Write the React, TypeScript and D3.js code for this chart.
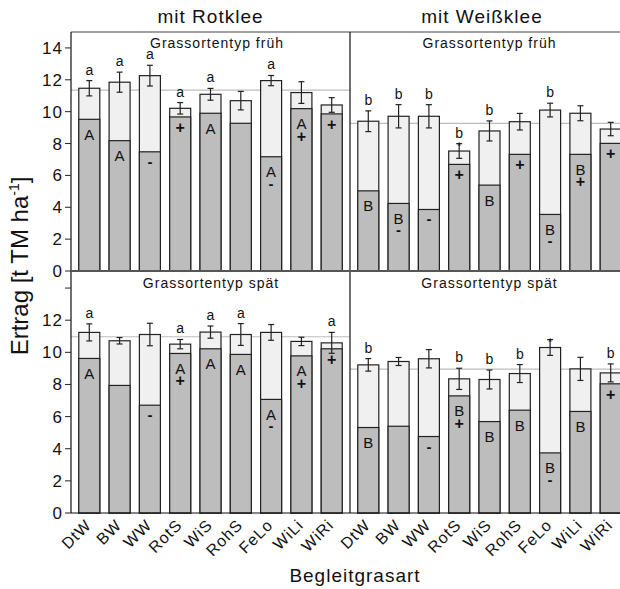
import React from "react";
import * as d3 from "d3";

const categories = ["DtW", "BW", "WW", "RotS", "WiS", "RohS", "FeLo", "WiLi", "WiRi"];

// mit Rotklee, Grassortentyp früh
const rfTotal = [11.47, 11.85, 12.26, 10.21, 11.09, 10.69, 11.95, 11.2, 10.42];
const rfDark = [9.52, 8.18, 7.48, 9.67, 9.9, 9.27, 7.17, 10.19, 9.86];
const rfErr = [0.48, 0.63, 0.65, 0.36, 0.37, 0.58, 0.32, 0.68, 0.46];
const rfGroup = ["a", "a", "a", "a", "a", "", "a", "", ""];
const rfInner = ["A", "A", "", "", "A", "", "A", "A", ""];
const rfSign = ["", "", "-", "+", "", "", "-", "+", "+"];
const rfStar = [0, 0, 0, 0, 0, 0, 0, 0, 0];
const rfMean = 11.35;

// mit Weißklee, Grassortentyp früh
const wfTotal = [9.4, 9.71, 9.71, 7.53, 8.79, 9.37, 10.1, 9.9, 8.91];
const wfDark = [5.03, 4.24, 3.86, 6.69, 5.39, 7.32, 3.55, 7.32, 8.01];
const wfErr = [0.65, 0.73, 0.73, 0.46, 0.63, 0.52, 0.43, 0.47, 0.42];
const wfGroup = ["b", "b", "b", "b", "b", "", "b", "", ""];
const wfInner = ["B", "B", "", "", "B", "", "B", "B", ""];
const wfSign = ["", "-", "-", "+", "", "+", "-", "+", "+"];
const wfStar = [0, 0, 0, 1, 0, 0, 0, 0, 0];
const wfMean = 9.27;

// mit Rotklee, Grassortentyp spät
const rsTotal = [11.24, 10.72, 11.11, 10.51, 11.26, 11.11, 11.24, 10.68, 10.59];
const rsDark = [9.62, 7.94, 6.71, 9.93, 10.22, 9.87, 7.07, 9.78, 10.22];
const rsErr = [0.53, 0.2, 0.7, 0.29, 0.38, 0.68, 0.49, 0.26, 0.65];
const rsGroup = ["a", "", "", "a", "a", "a", "", "", "a"];
const rsInner = ["A", "", "", "A", "A", "A", "A", "A", ""];
const rsSign = ["", "", "-", "+", "", "", "-", "+", "+"];
const rsStar = [0, 0, 0, 0, 0, 0, 0, 0, 0];
const rsMean = 10.97;

// mit Weißklee, Grassortentyp spät
const wsTotal = [9.22, 9.43, 9.6, 8.35, 8.31, 8.68, 10.3, 8.97, 8.72];
const wsDark = [5.32, 5.4, 4.76, 7.29, 5.69, 6.4, 3.74, 6.32, 8.04];
const wsErr = [0.39, 0.25, 0.57, 0.66, 0.59, 0.56, 0.49, 0.72, 0.56];
const wsGroup = ["b", "", "", "b", "b", "b", "", "", "b"];
const wsInner = ["B", "", "", "B", "B", "B", "B", "B", ""];
const wsSign = ["", "", "-", "+", "", "", "-", "", "+"];
const wsStar = [0, 0, 0, 0, 0, 0, 1, 0, 0];
const wsMean = 8.95;

const topTicks = [0, 2, 4, 6, 8, 10, 12, 14];
const botTickLabels = ["0", "2", "4", "6", "8", "10", "12", ""];

const FONT = "'Liberation Sans', Arial, Helvetica, sans-serif";

const leftX = 71;
const midX = 350;
const rightX = 629;
const topY = 32;
const midY = 271;
const botY = 513;

const xLeft = d3.scaleBand<string>().domain(categories).range([leftX, midX]).paddingInner(0.307).paddingOuter(0.257);
const xRight = d3.scaleBand<string>().domain(categories).range([midX, rightX]).paddingInner(0.307).paddingOuter(0.257);
const yTop = d3.scaleLinear().domain([0, 15]).range([midY, topY]);
const yBot = d3.scaleLinear().domain([0, 15]).range([botY, midY + 1]);

type PanelProps = {
  x: d3.ScaleBand<string>;
  y: d3.ScaleLinear<number, number>;
  total: number[];
  dark: number[];
  err: number[];
  group: string[];
  inner: string[];
  sign: string[];
  star: number[];
  mean: number;
  title: string;
  titleX: number;
  x0: number;
  x1: number;
};

function Panel(p: PanelProps) {
  const bw = p.x.bandwidth();
  const y0 = p.y(0);
  return (
    <g>
      <line x1={p.x0} x2={p.x1} y1={p.y(p.mean)} y2={p.y(p.mean)} stroke="#bdbdbd" strokeWidth={1.2} />
      <text x={p.titleX} y={p.y(15) + 16} textAnchor="middle" fontSize={14} letterSpacing={1} fontFamily={FONT} fill="#111">
        {p.title}
      </text>
      {categories.map((c, i) => {
        const bx = p.x(c)!;
        const cx = bx + bw / 2;
        const yt = p.y(p.total[i]);
        const yd = p.y(p.dark[i]);
        const eTop = p.y(p.total[i] + p.err[i]);
        const eBot = p.y(p.total[i] - p.err[i]);
        return (
          <g key={c}>
            <rect x={bx} y={yt} width={bw} height={y0 - yt} fill="#f0f0f0" stroke="#222" strokeWidth={1.2} />
            <rect x={bx} y={yd} width={bw} height={y0 - yd} fill="#bdbdbd" stroke="#222" strokeWidth={1.2} />
            <line x1={cx} x2={cx} y1={eTop} y2={eBot} stroke="#222" strokeWidth={1.2} />
            <line x1={cx - 3} x2={cx + 3} y1={eTop} y2={eTop} stroke="#222" strokeWidth={1.2} />
            <line x1={cx - 3} x2={cx + 3} y1={eBot} y2={eBot} stroke="#222" strokeWidth={1.2} />
            {p.star[i] ? (
              <text x={cx} y={eTop + 6} textAnchor="middle" fontSize={11} fontFamily={FONT} fill="#111">*</text>
            ) : null}
            {p.group[i] ? (
              <text x={cx} y={eTop - 6} textAnchor="middle" fontSize={14} fontFamily={FONT} fill="#111">
                {p.group[i]}
              </text>
            ) : null}
            {p.inner[i] ? (
              <text x={cx} y={yd + 20.5} textAnchor="middle" fontSize={15} fontFamily={FONT} fill="#111">
                {p.inner[i]}
              </text>
            ) : null}
            {p.sign[i] ? (
              <text
                x={cx}
                y={(p.inner[i] ? yd + 28 : yd + 11) + (p.sign[i] === "+" ? 5 : 4)}
                textAnchor="middle"
                fontSize={p.sign[i] === "+" ? 16 : 15}
                fontWeight="bold"
                fontFamily={FONT}
                fill="#111"
              >
                {p.sign[i]}
              </text>
            ) : null}
          </g>
        );
      })}
    </g>
  );
}

export default function App() {
  return (
    <svg width={620} height={589} style={{ position: "absolute", left: 0, top: 0, background: "#fff" }}>
      <rect x={0} y={0} width={620} height={589} fill="#fff" />
      <text x={(leftX + midX) / 2} y={23} textAnchor="middle" fontSize={19} letterSpacing={1} fontFamily={FONT} fill="#111">mit Rotklee</text>
      <text x={482} y={23} textAnchor="middle" fontSize={19} letterSpacing={1} fontFamily={FONT} fill="#111">mit Weißklee</text>

      <Panel x={xLeft} y={yTop} total={rfTotal} dark={rfDark} err={rfErr} group={rfGroup} inner={rfInner} sign={rfSign} star={rfStar} mean={rfMean} title="Grassortentyp früh" titleX={217} x0={leftX} x1={midX} />
      <Panel x={xRight} y={yTop} total={wfTotal} dark={wfDark} err={wfErr} group={wfGroup} inner={wfInner} sign={wfSign} star={wfStar} mean={wfMean} title="Grassortentyp früh" titleX={(midX + rightX) / 2} x0={midX} x1={rightX} />
      <Panel x={xLeft} y={yBot} total={rsTotal} dark={rsDark} err={rsErr} group={rsGroup} inner={rsInner} sign={rsSign} star={rsStar} mean={rsMean} title="Grassortentyp spät" titleX={211} x0={leftX} x1={midX} />
      <Panel x={xRight} y={yBot} total={wsTotal} dark={wsDark} err={wsErr} group={wsGroup} inner={wsInner} sign={wsSign} star={wsStar} mean={wsMean} title="Grassortentyp spät" titleX={(midX + rightX) / 2} x0={midX} x1={rightX} />

      {/* frame */}
      <line x1={leftX} x2={rightX} y1={topY} y2={topY} stroke="#444" strokeWidth={1.2} />
      <line x1={leftX} x2={leftX} y1={topY} y2={botY} stroke="#111" strokeWidth={1.2} />
      <line x1={midX} x2={midX} y1={topY} y2={botY} stroke="#111" strokeWidth={1.2} />
      <line x1={leftX} x2={rightX} y1={midY} y2={midY} stroke="#555" strokeWidth={2.2} />
      <line x1={leftX} x2={rightX} y1={botY} y2={botY} stroke="#111" strokeWidth={1.2} />

      {/* y ticks */}
      {topTicks.map((t) => (
        <g key={"t" + t}>
          <line x1={leftX - 6} x2={leftX} y1={yTop(t)} y2={yTop(t)} stroke="#222" strokeWidth={1} />
          <text x={leftX - 8} y={yTop(t) + 6} textAnchor="end" fontSize={17} letterSpacing={1} fontFamily={FONT} fill="#111">{t}</text>
        </g>
      ))}
      {topTicks.map((t, i) => (
        <g key={"b" + t}>
          <line x1={leftX - 6} x2={leftX} y1={yBot(t)} y2={yBot(t)} stroke="#222" strokeWidth={1} />
          {botTickLabels[i] ? (
            <text x={leftX - 8} y={yBot(t) + 6} textAnchor="end" fontSize={17} letterSpacing={1} fontFamily={FONT} fill="#111">{botTickLabels[i]}</text>
          ) : null}
        </g>
      ))}

      {/* x labels */}
      {categories.map((c) => (
        <g key={"xl" + c}>
          <text transform={`translate(${xLeft(c)! + xLeft.bandwidth() / 2 + 3},${botY + 13}) rotate(-45)`} textAnchor="end" fontSize={16} letterSpacing={1} fontFamily={FONT} fill="#111">{c}</text>
          <text transform={`translate(${xRight(c)! + xRight.bandwidth() / 2 + 3},${botY + 13}) rotate(-45)`} textAnchor="end" fontSize={16} letterSpacing={1} fontFamily={FONT} fill="#111">{c}</text>
        </g>
      ))}

      <text x={355} y={582} textAnchor="middle" fontSize={19} letterSpacing={1} fontFamily={FONT} fill="#111">Begleitgrasart</text>
      <text transform={`translate(28,266) rotate(-90)`} textAnchor="middle" fontSize={24} fontFamily={FONT} fill="#111">
        Ertrag [t TM ha<tspan dy={-9} fontSize={14}>-1</tspan><tspan dy={9}>]</tspan>
      </text>
    </svg>
  );
}
